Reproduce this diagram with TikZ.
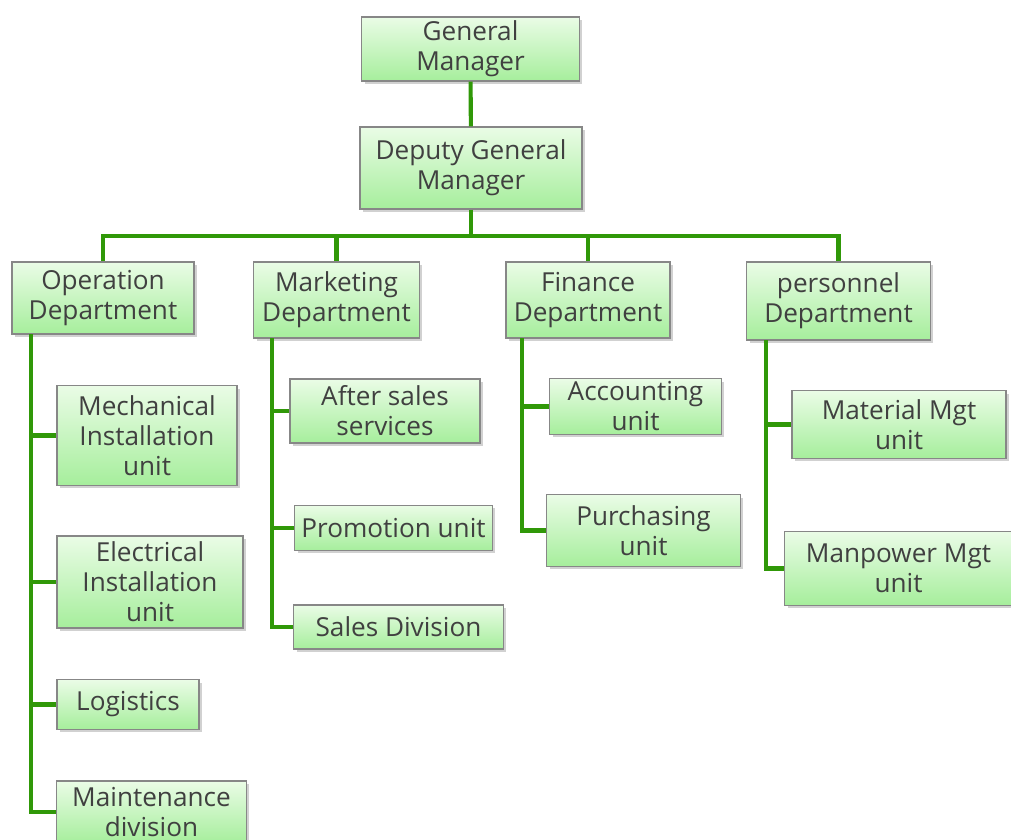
\documentclass[tikz,border=0pt]{standalone}
\usepackage{fontspec}
\setmainfont{Open Sans}
\usepackage{xcolor}
\usepackage{tikz}
\usetikzlibrary{shadows}

\definecolor{boxtop}{RGB}{234,252,230}
\definecolor{boxbot}{RGB}{166,238,156}
\definecolor{boxline}{RGB}{135,135,135}
\definecolor{txtgray}{RGB}{64,64,64}
\definecolor{linegreen}{RGB}{48,152,8}

\tikzset{
  box/.style={draw=boxline, line width=0.8pt, top color=boxtop, bottom color=boxbot,
    align=center, inner sep=1pt, text=txtgray,
    font=\fontsize{18.6}{21.3}\selectfont,
    drop shadow={shadow xshift=0.07cm, shadow yshift=-0.07cm, opacity=0.3, fill=black!60}},
  conn/.style={draw=linegreen, line width=2.9pt}
}

\begin{document}
\begin{tikzpicture}[x=0.025cm, y=-0.025cm]
        \useasboundingbox (0,0) rectangle (1011,840);

        % Nodes
        \node (gm) [box, minimum width=5.43cm, minimum height=1.6cm] at (470.5,49) {General\\Manager};
        \node (dgm) [box, minimum width=5.55cm, minimum height=2.05cm] at (471,168) {Deputy General\\Manager};

        \node (operation) [box, minimum width=4.55cm, minimum height=1.8cm] at (103,298) {Operation\\Department};
        \node (marketing) [box, minimum width=4.13cm, minimum height=1.9cm] at (336.5,300) {Marketing\\Department};
        \node (finance) [box, minimum width=4.1cm, minimum height=1.9cm] at (588,300) {Finance\\Department};
        \node (personnel) [box, minimum width=4.58cm, minimum height=1.95cm] at (838.5,301) {personnel\\Department};

        \node (mechanical) [box, minimum width=4.5cm, minimum height=2.48cm] at (147,435.5) {Mechanical\\Installation\\unit};
        \node (electrical) [box, minimum width=4.65cm, minimum height=2.3cm] at (150,582) {Electrical\\Installation\\unit};
        \node (logistics) [box, minimum width=3.55cm, minimum height=1.23cm] at (128,704.5) {Logistics};
        \node (maintenance) [box, minimum width=4.73cm, minimum height=1.55cm] at (151.5,812) {Maintenance\\division};

        \node (aftersales) [box, minimum width=4.75cm, minimum height=1.6cm] at (385,411) {After sales\\services};
        \node (promotion) [box, minimum width=4.93cm, minimum height=1.13cm] at (393.5,528) {Promotion unit};
        \node (sales) [box, minimum width=5.23cm, minimum height=1.1cm] at (398.5,627) {Sales Division};

        \node (accounting) [box, minimum width=4.28cm, minimum height=1.38cm] at (635.5,406.5) {Accounting\\unit};
        \node (purchasing) [box, minimum width=4.83cm, minimum height=1.78cm] at (643.5,530.5) {Purchasing\\unit};

        \node (material) [box, minimum width=5.35cm, minimum height=1.68cm] at (899,424.5) {Material Mgt\\unit};
        \node (manpower) [box, minimum width=5.68cm, minimum height=1.83cm] at (898.5,568.5) {Manpower Mgt\\unit};

        % Joints
        \coordinate (bus) at (471,236);
        \coordinate (operation_line) at (31,334);
        \coordinate (marketing_line) at (272,338);
        \coordinate (finance_line) at (522,338);
        \coordinate (personnel_line) at (766,340);

        % Lines
        \draw[conn] (gm) -- (dgm);
        \draw[conn] (dgm) -- (bus);
        \draw[conn] (bus) -| (operation);
        \draw[conn] (bus) -| (marketing);
        \draw[conn] (bus) -| (finance);
        \draw[conn] (bus) -| (personnel);

        \draw[conn] (operation_line) |- (mechanical);
        \draw[conn] (operation_line) |- (electrical);
        \draw[conn] (operation_line) |- (logistics);
        \draw[conn] (operation_line) |- (maintenance);

        \draw[conn] (marketing_line) |- (aftersales);
        \draw[conn] (marketing_line) |- (promotion);
        \draw[conn] (marketing_line) |- (sales);

        \draw[conn] (finance_line) |- (accounting);
        \draw[conn] (finance_line) |- (purchasing);

        \draw[conn] (personnel_line) |- (material);
        \draw[conn] (personnel_line) |- (manpower);
    \end{tikzpicture}
\end{document}
